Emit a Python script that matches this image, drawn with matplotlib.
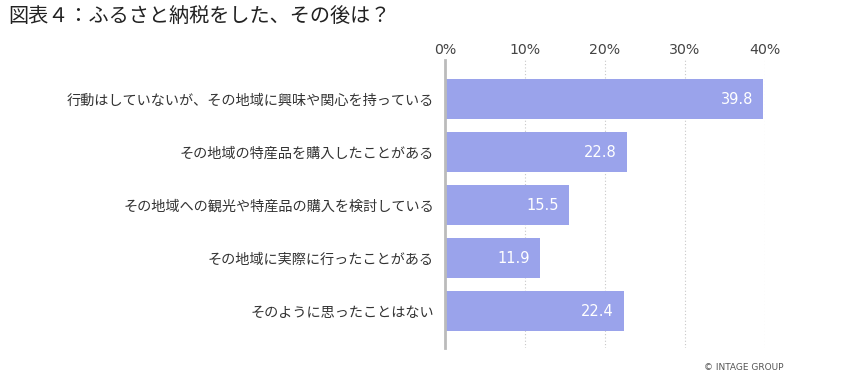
import matplotlib.pyplot as plt

plt.rcParams['font.family'] = ['Noto Sans CJK JP', 'DejaVu Sans']

categories = [
    "行動はしていないが、その地域に興味や関心を持っている",
    "その地域の特産品を購入したことがある",
    "その地域への観光や特産品の購入を検討している",
    "その地域に実際に行ったことがある",
    "そのように思ったことはない",
]
values = [39.8, 22.8, 15.5, 11.9, 22.4]
ticks = [0, 10, 20, 30, 40]
tick_labels = ["0%", "10%", "20%", "30%", "40%"]

bar_color = "#9aa3eb"
text_color = "#333333"
latin = ['DejaVu Sans']

fig = plt.figure(figsize=(8.5, 3.75), dpi=100)
ax = fig.add_axes([445 / 850, 1 - 348 / 375, 320 / 850, 288 / 375])

y = list(range(len(categories)))
ax.barh(y, values, height=0.755, color=bar_color, zorder=3)

for yi, v in zip(y, values):
    ax.text(v - 1.3, yi, f"{v:.1f}", ha="right", va="center",
            color="white", fontsize=10.5, family=latin, zorder=4)

ax.set_xlim(0, 40)
ax.set_ylim(4.698, -0.736)
ax.set_yticks(y)
ax.set_yticklabels(categories, fontsize=10.2, color=text_color)
ax.set_xticks(ticks)
ax.set_xticklabels(tick_labels, fontsize=10.2, color="#444444", family=latin)
ax.xaxis.tick_top()
ax.tick_params(axis="both", length=0)
ax.tick_params(axis="x", pad=2)
ax.tick_params(axis="y", pad=8)

for t in ticks[1:]:
    ax.axvline(t, color="#c8c8c8", linestyle=(0, (1, 2)), linewidth=0.8, zorder=1)

for side in ["top", "right", "bottom"]:
    ax.spines[side].set_visible(False)
ax.spines["left"].set_color("#bbbbbb")
ax.spines["left"].set_linewidth(2)
ax.spines["left"].set_zorder(5)

fig.text(8 / 850, 1 - 17 / 375, "図表４：ふるさと納税をした、その後は？",
         fontsize=14.5, color="#222222", va="center", ha="left")
fig.text(783 / 850, 1 - 367 / 375, "© INTAGE GROUP",
         fontsize=6.5, color="#555555", va="center", ha="right", family=latin)

fig.savefig("out.png", dpi=100)
